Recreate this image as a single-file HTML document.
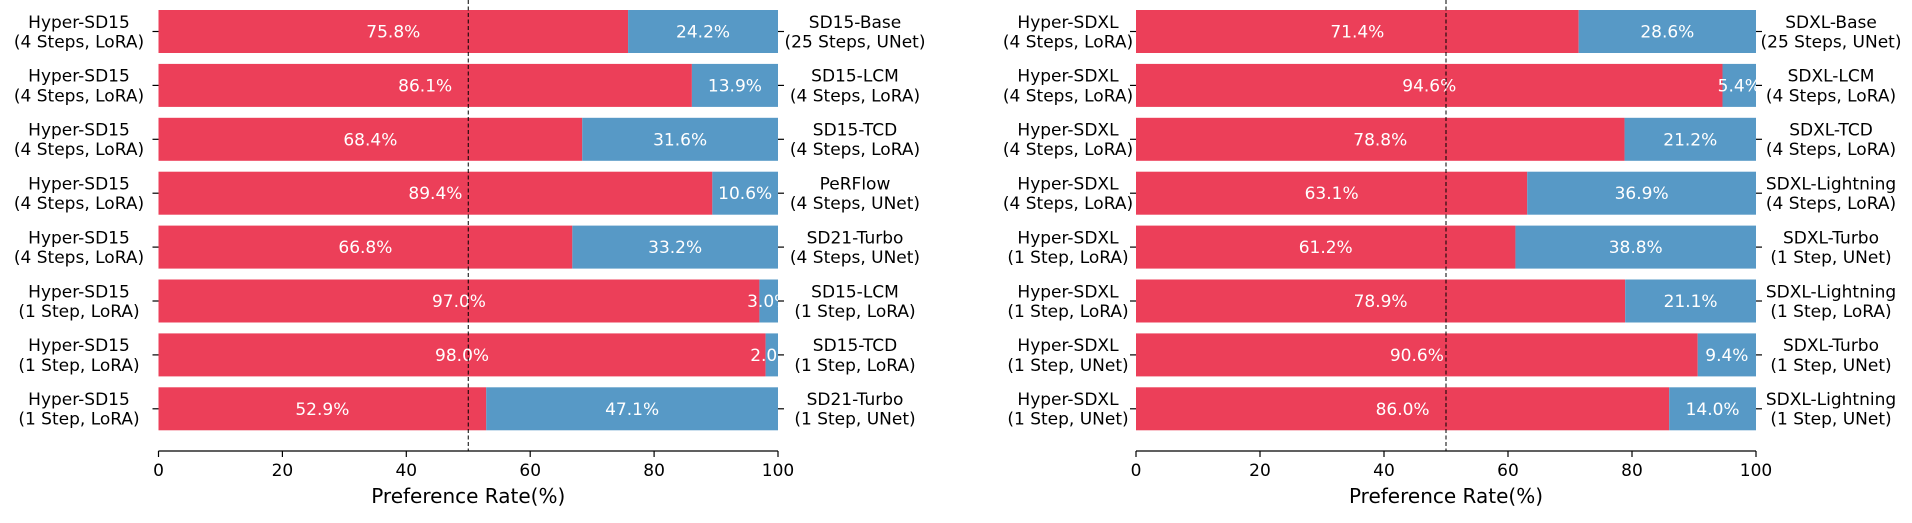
<!DOCTYPE html>
<html><head><meta charset="utf-8"><style>
body{margin:0;background:#fff;}
svg text{font-family:"DejaVu Sans","Liberation Sans",sans-serif;}
</style></head><body>
<svg id="chart" width="1912" height="518" xmlns="http://www.w3.org/2000/svg"></svg>
<script>
const leftLabels=["Hyper-SD15\n(4 Steps, LoRA)","Hyper-SD15\n(4 Steps, LoRA)","Hyper-SD15\n(4 Steps, LoRA)","Hyper-SD15\n(4 Steps, LoRA)","Hyper-SD15\n(4 Steps, LoRA)","Hyper-SD15\n(1 Step, LoRA)","Hyper-SD15\n(1 Step, LoRA)","Hyper-SD15\n(1 Step, LoRA)"];
const leftRivals=["SD15-Base\n(25 Steps, UNet)","SD15-LCM\n(4 Steps, LoRA)","SD15-TCD\n(4 Steps, LoRA)","PeRFlow\n(4 Steps, UNet)","SD21-Turbo\n(4 Steps, UNet)","SD15-LCM\n(1 Step, LoRA)","SD15-TCD\n(1 Step, LoRA)","SD21-Turbo\n(1 Step, UNet)"];
const leftValues=[75.8,86.1,68.4,89.4,66.8,97.0,98.0,52.9];
const rightLabels=["Hyper-SDXL\n(4 Steps, LoRA)","Hyper-SDXL\n(4 Steps, LoRA)","Hyper-SDXL\n(4 Steps, LoRA)","Hyper-SDXL\n(4 Steps, LoRA)","Hyper-SDXL\n(1 Step, LoRA)","Hyper-SDXL\n(1 Step, LoRA)","Hyper-SDXL\n(1 Step, UNet)","Hyper-SDXL\n(1 Step, UNet)"];
const rightRivals=["SDXL-Base\n(25 Steps, UNet)","SDXL-LCM\n(4 Steps, LoRA)","SDXL-TCD\n(4 Steps, LoRA)","SDXL-Lightning\n(4 Steps, LoRA)","SDXL-Turbo\n(1 Step, UNet)","SDXL-Lightning\n(1 Step, LoRA)","SDXL-Turbo\n(1 Step, UNet)","SDXL-Lightning\n(1 Step, UNet)"];
const rightValues=[71.4,94.6,78.8,63.1,61.2,78.9,90.6,86.0];
const xTicks=[0,20,40,60,80,100];

const svg=document.getElementById('chart');
const NS="http://www.w3.org/2000/svg";
function mk(tag,attrs,parent){const e=document.createElementNS(NS,tag);for(const k in attrs)e.setAttribute(k,attrs[k]);(parent||svg).appendChild(e);return e;}
function multi(g,x,yc,str,anchor,size,fill){
  const lines=str.split("\n");const lh=size*1.15;
  const t=mk('text',{x:x,'text-anchor':anchor,'font-size':size,fill:fill},g);
  lines.forEach((l,i)=>{const s=mk('tspan',{x:x,y:yc-(lines.length-1)*lh/2+i*lh+size*0.36},t);s.textContent=l;});
  return t;
}
function panel(x0,x1,lblX,rivX,labels,rivals,values,name){
  const g=mk('g',{});
  
  
  const sx=v=>x0+(x1-x0)*v/100;
  const top=10,pitch=53.9,h=43,spineY=451;
  values.forEach((v,i)=>{
    const y=top+pitch*i;
    const r=mk('rect',{x:sx(0),y:y,width:sx(v)-sx(0),height:h,fill:'#ec3f59'},g);
    
    
    const b=mk('rect',{x:sx(v),y:y,width:sx(100)-sx(v),height:h,fill:'#5799c6'},g);
    
    
    const t1=mk('text',{x:(sx(0)+sx(v))/2,y:y+h/2+6,'text-anchor':'middle','font-size':17,fill:'#fff'},g);
    t1.textContent=v.toFixed(1)+'%';
    
    
    const t2=mk('text',{x:(sx(v)+sx(100))/2,y:y+h/2+6,'text-anchor':'middle','font-size':17,fill:'#fff'},g);
    t2.textContent=(100-v).toFixed(1)+'%';
    
    
    const yc=y+h/2;
    mk('line',{x1:sx(0)-6,x2:sx(0),y1:yc,y2:yc,stroke:'#000','stroke-width':1.2},g);
    mk('line',{x1:sx(100),x2:sx(100)+6,y1:yc,y2:yc,stroke:'#000','stroke-width':1.2},g);
    const l=multi(g,lblX,yc,labels[i],'middle',17,'#000');
    
    
    const rl=multi(g,rivX,yc,rivals[i],'middle',17,'#000');
    
    
  });
  mk('line',{x1:sx(50),x2:sx(50),y1:0,y2:spineY,stroke:'#000','stroke-width':1,'stroke-dasharray':'4,2.5'},g);
  mk('line',{x1:sx(0),x2:sx(100),y1:spineY,y2:spineY,stroke:'#000','stroke-width':1.2},g);
  xTicks.forEach(t=>{
    mk('line',{x1:sx(t),x2:sx(t),y1:spineY,y2:spineY+6,stroke:'#000','stroke-width':1.2},g);
    const tt=mk('text',{x:sx(t),y:spineY+25,'text-anchor':'middle','font-size':17,fill:'#000'},g);
    tt.textContent=t;
    
    
  });
  const xl=mk('text',{x:(sx(0)+sx(100))/2,y:503,'text-anchor':'middle','font-size':20,fill:'#000'},g);
  xl.textContent='Preference Rate(%)';
  
  
}
panel(158.5,778,79,855,leftLabels,leftRivals,leftValues,'sd15-panel');
panel(1136,1756,1068,1831,rightLabels,rightRivals,rightValues,'sdxl-panel');
</script>
</body></html>
